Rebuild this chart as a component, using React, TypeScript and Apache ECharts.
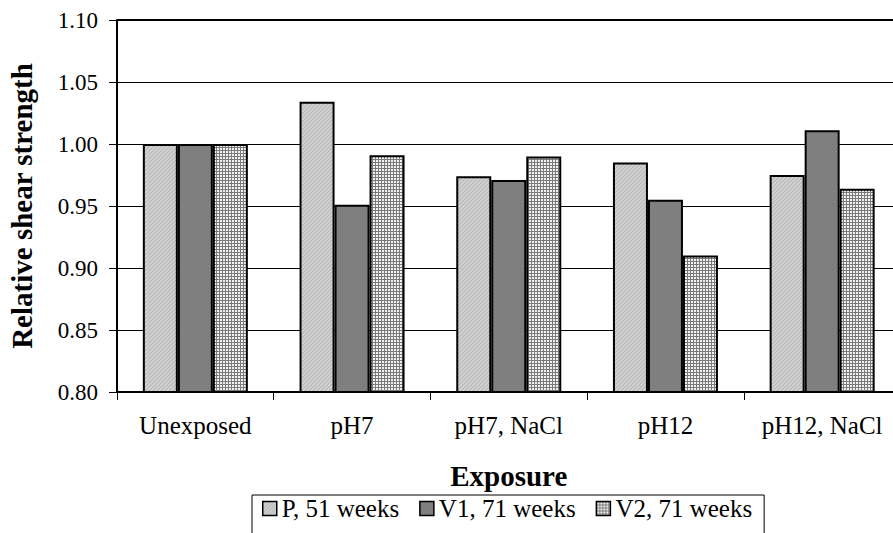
import React, { useEffect, useRef } from "react";
import * as echarts from "echarts";

const categories = ["Unexposed", "pH7", "pH7, NaCl", "pH12", "pH12, NaCl"];
const seriesNames = ["P, 51 weeks", "V1, 71 weeks", "V2, 71 weeks"];
const pValues = [1.0, 1.034, 0.974, 0.985, 0.975];
const v1Values = [1.0, 0.951, 0.971, 0.955, 1.011];
const v2Values = [1.0, 0.991, 0.99, 0.91, 0.964];

function makePattern(kind: string): any {
  const c = document.createElement("canvas");
  if (kind === "P") {
    c.width = 4;
    c.height = 4;
    const ctx = c.getContext("2d")!;
    ctx.fillStyle = "#c9c9c9";
    ctx.fillRect(0, 0, 4, 4);
    ctx.fillStyle = "#b8b8b8";
    for (let i = 0; i < 4; i++) ctx.fillRect(i, (3 - i) % 4, 1, 1);
    ctx.fillStyle = "#d6d6d6";
    for (let i = 0; i < 4; i++) ctx.fillRect(i, (5 - i) % 4, 1, 1);
  } else if (kind === "V1") {
    c.width = 4;
    c.height = 4;
    const ctx = c.getContext("2d")!;
    ctx.fillStyle = "#808080";
    ctx.fillRect(0, 0, 4, 4);
    ctx.fillStyle = "#767676";
    ctx.fillRect(0, 0, 1, 1);
    ctx.fillRect(2, 2, 1, 1);
  } else {
    c.width = 3;
    c.height = 3;
    const ctx = c.getContext("2d")!;
    ctx.fillStyle = "#f2f2f2";
    ctx.fillRect(0, 0, 3, 3);
    ctx.fillStyle = "#7a7a7a";
    ctx.fillRect(0, 0, 3, 1);
    ctx.fillRect(0, 0, 1, 3);
  }
  return { image: c, repeat: "repeat" };
}

export default function App() {
  const ref = useRef<HTMLDivElement>(null);
  useEffect(() => {
    if (!ref.current) return;
    const chart = echarts.init(ref.current, null, { renderer: "svg" });
    const font = "Liberation Serif";
    const patterns = [makePattern("P"), makePattern("V1"), makePattern("V2")];
    const data = [pValues, v1Values, v2Values];
    chart.setOption({
      animation: false,
      backgroundColor: "#ffffff",
      textStyle: { fontFamily: font, color: "#000" },
      grid: {
        left: 117,
        right: -7.5,
        top: 20,
        bottom: 141,
        containLabel: false,
        outerBoundsMode: "none",
      },
      legend: {
        left: 252,
        top: 495,
        orient: "horizontal",
        data: seriesNames,
        borderColor: "#000",
        borderWidth: 1,
        padding: [1, 12, 14, 10],
        itemWidth: 14,
        itemHeight: 14,
        itemGap: 20,
        icon: "rect",
        itemStyle: { borderColor: "#000", borderWidth: 1.5 },
        textStyle: { fontFamily: font, fontSize: 25, color: "#000" },
      },
      xAxis: {
        type: "category",
        data: categories,
        name: "Exposure",
        nameLocation: "middle",
        nameGap: 69,
        nameTextStyle: { fontFamily: font, fontSize: 29, fontWeight: "bold", color: "#000" },
        axisLine: { lineStyle: { color: "#000", width: 2 } },
        axisTick: { show: true, length: 8, lineStyle: { color: "#000", width: 1 } },
        axisLabel: {
          fontFamily: font,
          fontSize: 25,
          color: "#000",
          margin: 21,
          interval: 0,
          hideOverlap: false,
        },
      },
      yAxis: {
        type: "value",
        min: 0.8,
        max: 1.1,
        interval: 0.05,
        name: "Relative shear strength",
        nameLocation: "middle",
        nameGap: 81,
        nameRotate: 90,
        nameTextStyle: { fontFamily: font, fontSize: 29, fontWeight: "bold", color: "#000" },
        axisLine: { show: true, lineStyle: { color: "#000", width: 2 } },
        axisTick: { show: true, length: 8, lineStyle: { color: "#000", width: 1 } },
        axisLabel: {
          fontFamily: font,
          fontSize: 23,
          color: "#000",
          margin: 19,
          formatter: (v: number) => v.toFixed(2),
        },
        splitLine: { show: true, lineStyle: { color: "#000", width: 1.2 } },
      },
      series: seriesNames.map((name, i) => ({
        name,
        type: "bar",
        data: data[i],
        barWidth: 35,
        barGap: "0%",
        itemStyle: { color: patterns[i], borderColor: "#000", borderWidth: 2 },
        ...(i === 0
          ? {
              markLine: {
                silent: true,
                symbol: "none",
                label: { show: false },
                lineStyle: { color: "#000", width: 2, type: "solid" },
                data: [{ yAxis: 1.1 }],
              },
            }
          : {}),
      })),
    });
    return () => chart.dispose();
  }, []);
  return (
    <div
      ref={ref}
      style={{ position: "absolute", left: 0, top: 0, width: 893, height: 533 }}
    />
  );
}
